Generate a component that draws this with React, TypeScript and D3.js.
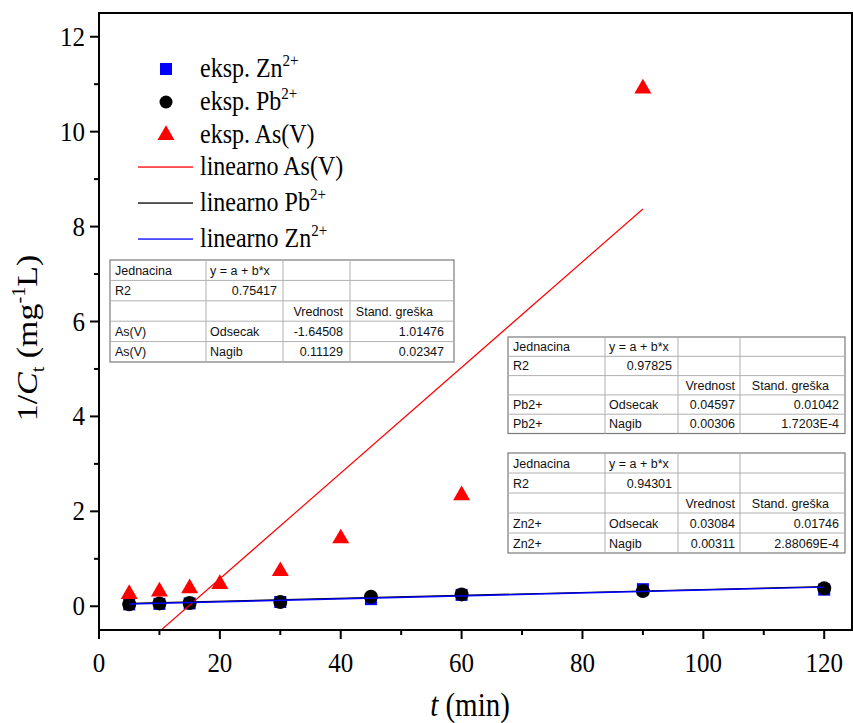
import React from 'react';
import * as d3 from 'd3';

// ---- data ----
const asTime = [5, 10, 15, 20, 30, 40, 60, 90];
const asValues = [0.28, 0.33, 0.4, 0.49, 0.76, 1.45, 2.36, 10.93];
const pbTime = [5, 10, 15, 30, 45, 60, 90, 120];
const pbValues = [0.04, 0.06, 0.07, 0.09, 0.2, 0.25, 0.32, 0.38];
const znTime = [5, 10, 15, 30, 45, 60, 90, 120];
const znValues = [0.04, 0.05, 0.06, 0.09, 0.15, 0.24, 0.36, 0.35];

const xTicks = [0, 20, 40, 60, 80, 100, 120];
const xMinorTicks = [10, 30, 50, 70, 90, 110];
const yTicks = [0, 2, 4, 6, 8, 10, 12];
const yMinorTicks = [1, 3, 5, 7, 9, 11];

const fitNames = ['As(V)', 'Pb2+', 'Zn2+'];
const fitR2 = ['0.75417', '0.97825', '0.94301'];
const fitIntercept = ['-1.64508', '0.04597', '0.03084'];
const fitInterceptErr = ['1.01476', '0.01042', '0.01746'];
const fitSlope = ['0.11129', '0.00306', '0.00311'];
const fitSlopeErr = ['0.02347', '1.7203E-4', '2.88069E-4'];

const SERIF = '"Liberation Serif", "Times New Roman", serif';
const SANS = '"Liberation Sans", Arial, sans-serif';

const W = 853;
const H = 723;
const left = 99;
const right = 852;
const top = 13;
const bottom = 630;
const STRETCH = 1.13;

const x = d3.scaleLinear().domain([0, 124.6]).range([left, right]);
const y = d3.scaleLinear().domain([-0.5, 12.5]).range([bottom, top]);

function fitLine(times: number[], a: number, b: number) {
  const ext = d3.extent(times) as [number, number];
  const pts: [number, number][] = [ext[0], ext[1]].map((t) => [t, a + b * t]);
  return d3.line<[number, number]>().x((d) => x(d[0])).y((d) => y(d[1]))(pts) || '';
}

const triPath = d3.symbol().type(d3.symbolTriangle).size(125)();

function Table({ i, tx, ty, cols, rowH, padV, padE, padH3 }: any) {
  const cx = [tx];
  cols.forEach((c: number) => cx.push(cx[cx.length - 1] + c));
  const totalW = cx[4] - tx;
  const totalH = rowH * 5;
  const base = (r: number) => ty + r * rowH + rowH * 0.73;
  const txt = (s: string, r: number, c: number, anchor: 'start' | 'end', pad: number) => (
    <text
      x={anchor === 'start' ? cx[c] + pad : cx[c + 1] - pad}
      y={base(r)}
      textAnchor={anchor}
      fontFamily={SANS}
      fontSize={12.5}
      fill="#111"
    >
      {s}
    </text>
  );
  return (
    <g>
      <rect x={tx} y={ty} width={totalW} height={totalH} fill="#fff" stroke="#7a7a7a" strokeWidth={1.2} />
      {[1, 2, 3, 4].map((r) => (
        <line key={'r' + r} x1={tx} x2={tx + totalW} y1={ty + r * rowH} y2={ty + r * rowH} stroke="#b0b0b0" strokeWidth={1} />
      ))}
      {[1, 2, 3].map((c) => (
        <line key={'c' + c} x1={cx[c]} x2={cx[c]} y1={ty} y2={ty + totalH} stroke="#b0b0b0" strokeWidth={1} />
      ))}
      {txt('Jednacina', 0, 0, 'start', 5)}
      {txt('y = a + b*x', 0, 1, 'start', 4)}
      {txt('R2', 1, 0, 'start', 5)}
      {txt(fitR2[i], 1, 1, 'end', 6)}
      {txt('Vrednost', 2, 2, 'end', padV)}
      {txt('Stand. greška', 2, 3, 'end', padH3)}
      {txt(fitNames[i], 3, 0, 'start', 5)}
      {txt('Odsecak', 3, 1, 'start', 4)}
      {txt(fitIntercept[i], 3, 2, 'end', padV)}
      {txt(fitInterceptErr[i], 3, 3, 'end', padE)}
      {txt(fitNames[i], 4, 0, 'start', 5)}
      {txt('Nagib', 4, 1, 'start', 4)}
      {txt(fitSlope[i], 4, 2, 'end', padV)}
      {txt(fitSlopeErr[i], 4, 3, 'end', padE)}
    </g>
  );
}

// serif text, slightly stretched vertically like the reference
function SText({ x: tx, y: ty, anchor = 'start', size, children }: any) {
  return (
    <g transform={`translate(${tx},${ty}) scale(1,${STRETCH})`}>
      <text x={0} y={0} textAnchor={anchor} fontFamily={SERIF} fontSize={size} fill="#000">
        {children}
      </text>
    </g>
  );
}

export default function App() {
  const legendX = 166;
  const legendTextX = 200;
  const legendRows = [69, 102, 135, 167, 203, 239];
  const legendFont = 24;
  const lineColors = ['#ff0000', '#000000', '#0000ff'];

  const legendLabel = (yy: number, main: string, sup?: string) => (
    <SText x={legendTextX} y={yy + 8} size={legendFont}>
      {main}
      {sup ? (
        <tspan dy={-10} fontSize={15}>
          {sup}
        </tspan>
      ) : null}
    </SText>
  );

  return (
    <svg width={W} height={H} style={{ position: 'absolute', left: 0, top: 0, background: '#fff' }}>
      <rect x={0} y={0} width={W} height={H} fill="#fff" />
      <defs>
        <clipPath id="plotClip">
          <rect x={left} y={top} width={right - left} height={bottom - top} />
        </clipPath>
      </defs>

      {/* markers */}
      <g>
        {znTime.map((t, k) => (
          <rect key={'zn' + k} x={x(t) - 6} y={y(znValues[k]) - 6} width={12} height={12} fill="#0000ff" />
        ))}
        {pbTime.map((t, k) => (
          <circle key={'pb' + k} cx={x(t)} cy={y(pbValues[k])} r={7} fill="#000" />
        ))}
        {asTime.map((t, k) => (
          <path key={'as' + k} d={triPath} transform={`translate(${x(t)},${y(asValues[k]) + 1})`} fill="#ff0000" />
        ))}
      </g>

      {/* fit lines */}
      <g clipPath="url(#plotClip)" fill="none">
        <path d={fitLine(asTime, +fitIntercept[0], +fitSlope[0])} stroke={lineColors[0]} strokeWidth={1.2} />
        <path d={fitLine(pbTime, +fitIntercept[1], +fitSlope[1])} stroke={lineColors[1]} strokeWidth={1.2} />
        <path d={fitLine(znTime, +fitIntercept[2], +fitSlope[2])} stroke={lineColors[2]} strokeWidth={1.4} />
      </g>

      {/* frame */}
      <rect x={left} y={top} width={right - left} height={bottom - top} fill="none" stroke="#000" strokeWidth={2} />

      {/* x axis ticks */}
      {xTicks.map((t) => (
        <g key={'xt' + t}>
          <line x1={x(t)} x2={x(t)} y1={bottom} y2={bottom + 9} stroke="#000" strokeWidth={2} />
          <SText x={x(t)} y={bottom + 42} anchor="middle" size={25}>
            {t}
          </SText>
        </g>
      ))}
      {xMinorTicks.map((t) => (
        <line key={'xm' + t} x1={x(t)} x2={x(t)} y1={bottom} y2={bottom + 5} stroke="#000" strokeWidth={2} />
      ))}
      {/* y axis ticks */}
      {yTicks.map((t) => (
        <g key={'yt' + t}>
          <line x1={left - 9} x2={left} y1={y(t)} y2={y(t)} stroke="#000" strokeWidth={2} />
          <SText x={left - 14} y={y(t) + 9} anchor="end" size={25}>
            {t}
          </SText>
        </g>
      ))}
      {yMinorTicks.map((t) => (
        <line key={'ym' + t} x1={left - 5} x2={left} y1={y(t)} y2={y(t)} stroke="#000" strokeWidth={2} />
      ))}

      {/* axis titles */}
      <SText x={470} y={716} anchor="middle" size={29}>
        <tspan fontStyle="italic">t</tspan>
        <tspan> (min)</tspan>
      </SText>
      <g transform="translate(37,338) rotate(-90)">
        <text x={0} y={0} textAnchor="middle" fontFamily={SERIF} fontSize={30} fill="#000" transform={`scale(${STRETCH},1)`}>
          <tspan>1/</tspan>
          <tspan fontStyle="italic">C</tspan>
          <tspan fontSize={18} dy={7}>t</tspan>
          <tspan dy={-7}> (mg</tspan>
          <tspan fontSize={18} dy={-12}>-1</tspan>
          <tspan dy={12}>L)</tspan>
        </text>
      </g>

      {/* legend */}
      <rect x={legendX - 6} y={legendRows[0] - 6} width={12} height={12} fill="#0000ff" />
      {legendLabel(legendRows[0], 'eksp. Zn', '2+')}
      <circle cx={legendX} cy={legendRows[1]} r={6.5} fill="#000" />
      {legendLabel(legendRows[1], 'eksp. Pb', '2+')}
      <path d={triPath} transform={`translate(${legendX},${legendRows[2]})`} fill="#ff0000" />
      {legendLabel(legendRows[2], 'eksp. As(V)')}
      <rect x={138} y={legendRows[3] - 0.6} width={55} height={1.3} fill={lineColors[0]} />
      {legendLabel(legendRows[3], 'linearno As(V)')}
      <rect x={138} y={legendRows[4] - 0.6} width={55} height={1.3} fill={lineColors[1]} />
      {legendLabel(legendRows[4], 'linearno Pb', '2+')}
      <rect x={138} y={legendRows[5] - 0.6} width={55} height={1.3} fill={lineColors[2]} />
      {legendLabel(legendRows[5], 'linearno Zn', '2+')}

      {/* tables */}
      <Table i={0} tx={110} ty={260} cols={[96, 77, 67, 104]} rowH={20.4} padV={7} padE={10} padH3={21} />
      <Table i={1} tx={508} ty={337} cols={[97, 73, 62, 105]} rowH={19.3} padV={5} padE={6} padH3={16} />
      <Table i={2} tx={508} ty={453} cols={[97, 73, 62, 105]} rowH={20} padV={5} padE={6} padH3={16} />
    </svg>
  );
}
